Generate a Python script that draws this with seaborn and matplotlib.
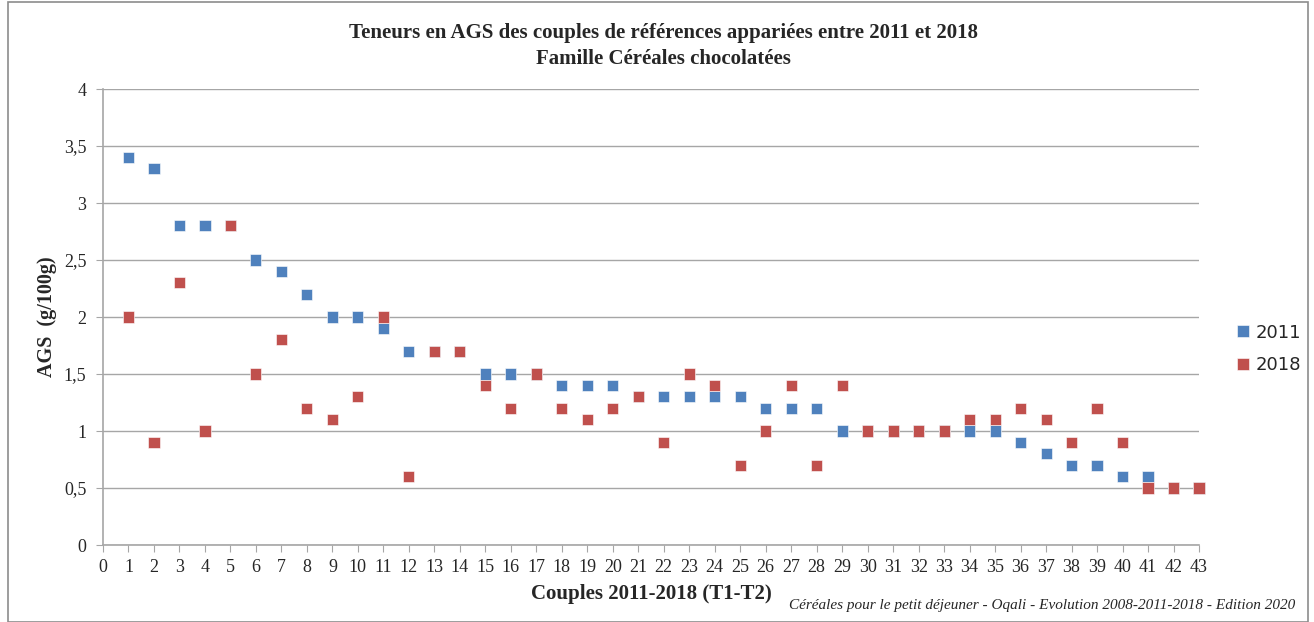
import pandas as pd
import matplotlib.pyplot as plt
import seaborn as sns
from matplotlib.patches import Rectangle

# Données
couples = list(range(1, 44))
ags_2011 = [3.4, 3.3, 2.8, 2.8, 2.8, 2.5, 2.4, 2.2, 2.0, 2.0,
            1.9, 1.7, 1.7, 1.7, 1.5, 1.5, 1.5, 1.4, 1.4, 1.4,
            1.3, 1.3, 1.3, 1.3, 1.3, 1.2, 1.2, 1.2, 1.0, 1.0,
            1.0, 1.0, 1.0, 1.0, 1.0, 0.9, 0.8, 0.7, 0.7, 0.6,
            0.6, 0.5, 0.5]
ags_2018 = [2.0, 0.9, 2.3, 1.0, 2.8, 1.5, 1.8, 1.2, 1.1, 1.3,
            2.0, 0.6, 1.7, 1.7, 1.4, 1.2, 1.5, 1.2, 1.1, 1.2,
            1.3, 0.9, 1.5, 1.4, 0.7, 1.0, 1.4, 0.7, 1.4, 1.0,
            1.0, 1.0, 1.0, 1.1, 1.1, 1.2, 1.1, 0.9, 1.2, 0.9,
            0.5, 0.5, 0.5]
annees = ["2011", "2018"]
couleurs = ["#4F81BD", "#C0504D"]

df = pd.DataFrame({
    "couple": couples * 2,
    "ags": ags_2011 + ags_2018,
    "annee": [annees[0]] * len(couples) + [annees[1]] * len(couples),
})

sns.set_style("white")
serif = ["Liberation Serif", "DejaVu Serif"]

fig = plt.figure(figsize=(13.14, 6.22), dpi=100)
ax = fig.add_axes([103 / 1314, 1 - 545 / 622, (1199 - 103) / 1314, (545 - 89) / 622])

sns.scatterplot(data=df, x="couple", y="ags", hue="annee", hue_order=annees,
                palette=couleurs, marker="s", s=64, linewidth=0.4,
                edgecolor="white", ax=ax, zorder=3, clip_on=False)

ax.set_xlim(0, 43)
ax.set_ylim(0, 4)
ax.set_xticks(range(0, 44))
ax.set_yticks([i * 0.5 for i in range(9)])
ax.set_yticklabels([f"{v:g}".replace(".", ",") for v in ax.get_yticks()])
ax.grid(axis="y", color="#A6A6A6", linewidth=1)
ax.grid(axis="x", visible=False)
for side in ["top", "right"]:
    ax.spines[side].set_visible(False)
for side in ["left", "bottom"]:
    ax.spines[side].set_color("#A6A6A6")
    ax.spines[side].set_linewidth(1.2)
ax.tick_params(axis="x", length=5, color="#A6A6A6", pad=5, bottom=True)
ax.tick_params(axis="y", length=5, color="#A6A6A6", pad=7, left=True)
for lab in ax.get_xticklabels() + ax.get_yticklabels():
    lab.set_fontfamily(serif)
    lab.set_fontsize(13)

ax.set_xlabel("Couples 2011-2018 (T1-T2)", fontsize=15, fontweight="bold",
              family=serif, labelpad=6)
ax.set_ylabel("AGS  (g/100g)", fontsize=14.5, fontweight="bold", family=serif,
              labelpad=5)

fig.text(0.505, 1 - 46 / 622,
         "Teneurs en AGS des couples de références appariées entre 2011 et 2018\nFamille Céréales chocolatées",
         ha="center", va="center", fontsize=15, fontweight="bold",
         family=serif, linespacing=1.35)

fig.text(1295 / 1314, 1 - 605 / 622,
         "Céréales pour le petit déjeuner - Oqali - Evolution 2008-2011-2018 - Edition 2020",
         ha="right", va="center", fontsize=11, style="italic", family=serif)

leg = ax.legend(loc="center left", bbox_to_anchor=(1.032, 0.43), frameon=False,
                fontsize=13, handletextpad=0.2, labelspacing=0.8,
                markerscale=1.15, handlelength=1.0, borderaxespad=0,
                borderpad=0, title=None)
for t in leg.get_texts():
    t.set_fontfamily(["DejaVu Sans"])

fig.add_artist(Rectangle((8 / 1314, 0), 1300 / 1314, 1 - 2 / 622,
                         transform=fig.transFigure, fill=False,
                         edgecolor="#8C8C8C", linewidth=1.2))

fig.savefig("out.png", dpi=100)
